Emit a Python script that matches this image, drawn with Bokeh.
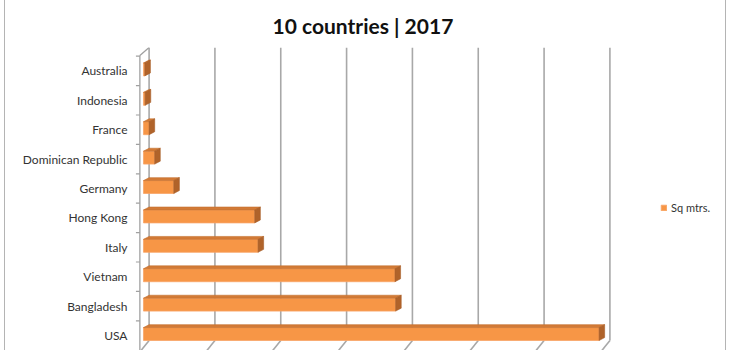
import numpy as np
from bokeh.plotting import figure
from bokeh.models import Range1d, FixedTicker, Legend, LegendItem, ColumnDataSource
from bokeh.embed import file_html
from bokeh.resources import INLINE

# ---- data ----
countries = ["USA", "Bangladesh", "Vietnam", "Italy", "Hong Kong", "Germany",
             "Dominican Republic", "France", "Indonesia", "Australia"]
sq_mtrs = [6920, 3830, 3820, 1740, 1690, 460, 170, 85, 25, 20]
grid_ticks = [0, 1000, 2000, 3000, 4000, 5000, 6000, 7000]
title_text = "10 countries | 2017"
series_name = "Sq mtrs."

# ---- 3D look parameters (styling) ----
DX = 85      # bar depth along x (data units)
DY = 0.10    # bar depth along y (category units)
H = 0.44     # bar front height
OFF = 0.05   # bar shifted up
WALL_X = -140
FLOOR_BACK = -0.17
FLOOR_FRONT = -0.56
TOP_BACK = 9.796
TOP_FRONT = 9.524

pos = np.arange(len(countries), dtype=float)
vals = np.array(sq_mtrs, dtype=float)

p = figure(width=722, height=350,
           x_range=Range1d(-252, 8771), y_range=Range1d(-0.51, 9.796),
           output_backend="svg", toolbar_location=None,
           x_axis_location=None,
           min_border_left=127, min_border_right=1,
           min_border_top=47, min_border_bottom=0,
           margin=(0, 0, 0, 4),
           styles={"border-left": "1px solid #b4b4b4",
                   "border-right": "1px solid #b4b4b4"})
p.outline_line_color = None
p.grid.visible = False
p.background_fill_color = "white"
p.border_fill_color = "white"

# title
p.title.text = title_text
p.title.align = "left"
p.title.offset = 140
p.title.standoff = 16
p.title.vertical_align = "top"
p.title.text_font = "Lato"
p.title.text_font_style = "bold"
p.title.text_font_size = "21px"
p.title.text_color = "#111111"

# gridlines on back wall + floor feet
gt = np.array(grid_ticks, dtype=float)
p.segment(x0=gt, y0=np.full(len(gt), FLOOR_BACK), x1=gt, y1=np.full(len(gt), TOP_BACK),
          line_color="#a8a8a8", line_width=1.6)
p.segment(x0=gt, y0=np.full(len(gt), FLOOR_BACK), x1=gt - 140, y1=np.full(len(gt), FLOOR_FRONT),
          line_color="#a8a8a8", line_width=1.6)

# front axis line, corner and ticks
p.segment(x0=[WALL_X], y0=[FLOOR_FRONT], x1=[WALL_X], y1=[TOP_FRONT],
          line_color="#a0a0a0", line_width=1.3)
p.segment(x0=[WALL_X], y0=[TOP_FRONT], x1=[0], y1=[TOP_BACK],
          line_color="#a0a0a0", line_width=1.3)
bnd = pos + 0.5
p.segment(x0=np.full(len(bnd), WALL_X), y0=bnd, x1=np.full(len(bnd), WALL_X - 60), y1=bnd,
          line_color="#a0a0a0", line_width=1.2)

# bars
yc = pos + OFF
bot = yc - H / 2
top = yc + H / 2
front_src = ColumnDataSource(dict(left=np.full(len(vals), -DX), right=vals - DX, bottom=bot, top=top))
front = p.quad(left="left", right="right", bottom="bottom", top="top", source=front_src,
               fill_color="#F79646", line_color="#F9A567", line_width=0.8)

top_xs = [[-DX, v - DX, v, 0.0] for v in vals]
top_ys = [[t, t, t + DY, t + DY] for t in top]
p.patches(xs=top_xs, ys=top_ys, fill_color="#D27A36", line_color="#C4702F", line_width=0.6)

side_xs = [[v - DX, v - DX, v, v] for v in vals]
side_ys = [[b, t, t + DY, b + DY] for b, t in zip(bot, top)]
p.patches(xs=side_xs, ys=side_ys, fill_color="#B0632A", line_color="#A85E28", line_width=0.6)

# y axis (labels only)
p.yaxis.ticker = FixedTicker(ticks=list(pos))
p.yaxis.major_label_overrides = {float(i): c for i, c in enumerate(countries)}
p.yaxis.major_label_overrides.update({int(i): c for i, c in enumerate(countries)})
p.yaxis.axis_line_color = None
p.yaxis.major_tick_line_color = None
p.yaxis.minor_tick_line_color = None
p.yaxis.major_tick_out = 0
p.yaxis.major_tick_in = 0
p.yaxis.major_label_standoff = 5
p.yaxis.major_label_text_font = "Lato"
p.yaxis.major_label_text_font_size = "12px"
p.yaxis.major_label_text_color = "#333333"

# legend
legend = Legend(items=[LegendItem(label=series_name, renderers=[front])],
                location=(528, 136), glyph_width=7, glyph_height=7,
                label_height=14, label_standoff=4, padding=0, margin=0,
                border_line_color=None, background_fill_alpha=0,
                label_text_font="Lato", label_text_font_size="11px",
                label_text_color="#333333")
p.add_layout(legend)

open("out.html", "w").write(file_html(p, INLINE))
